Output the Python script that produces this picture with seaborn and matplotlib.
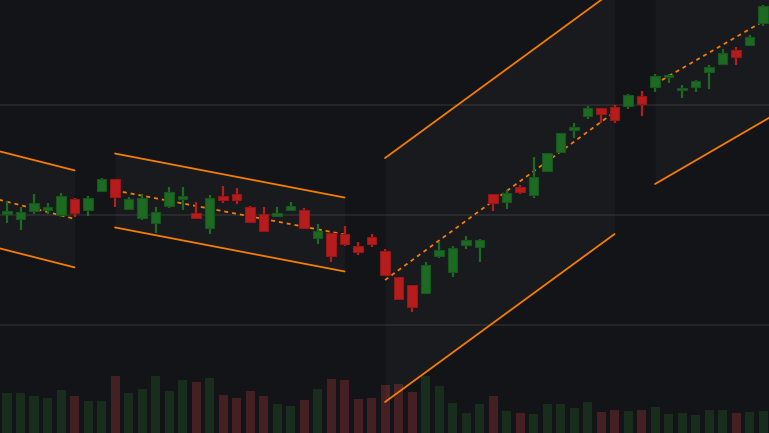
import numpy as np
import pandas as pd
import matplotlib.pyplot as plt
import seaborn as sns

# candle data (price units), one entry per bar
opens = [110.12, 109.66, 110.36, 110.48, 110.00, 111.43, 110.45, 112.18, 113.25, 110.55,
         109.75, 109.30, 110.82, 111.48, 110.18, 108.85, 111.70, 111.91, 110.75, 110.09,
         109.91, 110.48, 110.45, 107.91, 108.36, 108.27, 107.18, 108.00, 106.73, 104.36,
         103.64, 102.94, 106.30, 104.85, 107.30, 107.12, 111.88, 111.21, 112.52, 111.85,
         114.03, 115.75, 117.75, 119.03, 119.73, 119.82, 119.94, 120.79, 121.66, 122.55,
         121.34, 121.66, 123.03, 123.75, 125.00, 125.48, 127.45]
highs = [111.27, 110.70, 111.91, 111.09, 112.00, 111.55, 111.73, 113.36, 113.25, 111.61,
         111.91, 110.73, 112.55, 112.55, 111.18, 111.82, 112.64, 112.45, 110.82, 110.73,
         110.73, 111.18, 110.64, 109.18, 108.36, 109.00, 107.55, 108.27, 106.88, 104.40,
         103.64, 105.70, 107.57, 107.18, 108.09, 107.82, 111.88, 112.27, 112.70, 115.27,
         115.64, 117.45, 118.36, 119.91, 119.73, 119.98, 121.00, 121.27, 122.82, 122.82,
         121.82, 122.27, 123.64, 125.09, 125.27, 126.39, 129.09]
lows = [109.30, 108.64, 110.09, 110.12, 109.85, 109.82, 109.91, 112.18, 110.73, 110.52,
        109.55, 108.36, 110.61, 110.48, 109.66, 108.30, 111.09, 111.03, 109.23, 108.45,
        109.79, 110.39, 108.85, 107.36, 105.75, 107.18, 106.36, 107.09, 104.55, 102.35,
        101.21, 102.85, 106.12, 104.39, 106.94, 105.73, 110.36, 110.57, 111.94, 111.57,
        114.03, 115.61, 117.03, 118.75, 118.41, 118.39, 119.66, 119.03, 121.18, 122.03,
        120.66, 121.18, 121.48, 123.66, 123.66, 125.39, 127.21]
closes = [110.36, 110.27, 111.09, 110.70, 111.73, 110.15, 111.55, 113.27, 111.66, 111.45,
          111.55, 110.27, 112.09, 111.73, 109.75, 111.55, 111.39, 111.39, 109.34, 108.57,
          110.18, 110.82, 108.85, 108.57, 106.30, 107.39, 106.66, 107.39, 104.59, 102.39,
          101.61, 105.45, 106.82, 107.00, 107.73, 107.73, 111.06, 112.00, 112.06, 113.43,
          115.64, 117.45, 118.00, 119.73, 119.14, 118.68, 120.91, 120.06, 122.64, 122.73,
          121.55, 122.18, 123.45, 124.73, 124.34, 126.18, 129.03]
volumes = [121, 121, 112, 106, 129, 112, 96, 97, 171, 121,
           132, 172, 125, 159, 153, 165, 113, 106, 126, 111,
           86, 82, 99, 133, 162, 159, 102, 106, 144, 146,
           124, 172, 141, 90, 61, 88, 111, 66, 60, 58,
           88, 88, 74, 93, 64, 69, 65, 70, 79, 57,
           60, 54, 70, 68, 60, 64, 66]

# regression channels: bar range, midline at both ends, half width
chan_start = [-2, 8, 28, 48]
chan_end = [5, 25, 45, 57]
chan_mid_start = [111.83, 112.23, 104.09, 121.91]
chan_mid_end = [109.65, 108.23, 119.36, 128.32]
chan_half = [4.41, 3.36, 11.09, 9.09]

bg = "#131418"
grid_c = "#28292d"
orange = "#f57c00"
up_c, down_c = "#1d6a23", "#b71c1c"
up_edge, down_edge = "#17561c", "#961717"
vol_up, vol_down = "#16301b", "#4b1a1c"

sns.set_theme(style="dark", rc={"axes.facecolor": bg, "figure.facecolor": bg})

df = pd.DataFrame({"open": opens, "high": highs, "low": lows,
                   "close": closes, "volume": volumes})
df["idx"] = np.arange(len(df))
df["dir"] = np.where(df["close"] >= df["open"], "up", "down")

fig = plt.figure(figsize=(7.69, 4.33), dpi=100)
ax_vol = fig.add_axes([0, 0, 1, 1])
ax_vol.set_facecolor(bg)

# volume bars behind everything
sns.barplot(data=df, x="idx", y="volume", hue="dir", native_scale=True,
            palette={"up": vol_up, "down": vol_down}, dodge=False,
            width=0.67, errorbar=None, legend=False, ax=ax_vol,
            linewidth=0, edgecolor="none", zorder=1)
ax_vol.set_ylim(0, 1299)

ax = ax_vol.twinx()
ax.patch.set_visible(False)

for y in [100, 110, 120]:
    ax.axhline(y, color=grid_c, lw=1.2, zorder=0)

# channels
for s, e, m0, m1, h in zip(chan_start, chan_end, chan_mid_start, chan_mid_end, chan_half):
    xs = np.array([s, e])
    mid = np.array([m0, m1])
    ax.fill_between(xs, mid - h, mid + h, color="white", alpha=0.028, lw=0, zorder=1)
    ax.plot(xs, mid + h, color=orange, lw=1.3, zorder=3)
    ax.plot(xs, mid - h, color=orange, lw=1.3, zorder=3)
    ax.plot(xs, mid, color=orange, lw=1.3, ls=(0, (2.2, 2.2)), zorder=3)

# candles
for _, r in df.iterrows():
    up = r["dir"] == "up"
    c = up_c if up else down_c
    ec = up_edge if up else down_edge
    ax.vlines(r["idx"], r["low"], r["high"], color=c, lw=1.6, zorder=4)
    lo = min(r["open"], r["close"])
    hgt = max(abs(r["close"] - r["open"]), 0.12)
    ax.bar(r["idx"], hgt, bottom=lo, width=0.72, color=c, edgecolor=ec,
           linewidth=0.8, zorder=5)

for a in (ax, ax_vol):
    a.set_xlim(-0.52, 56.44)
    a.set_xticks([])
    a.set_yticks([])
    a.set_xlabel("")
    a.set_ylabel("")
    for sp in a.spines.values():
        sp.set_visible(False)
ax.set_ylim(90.18, 129.55)

fig.savefig("out.png", dpi=100, facecolor=bg)
